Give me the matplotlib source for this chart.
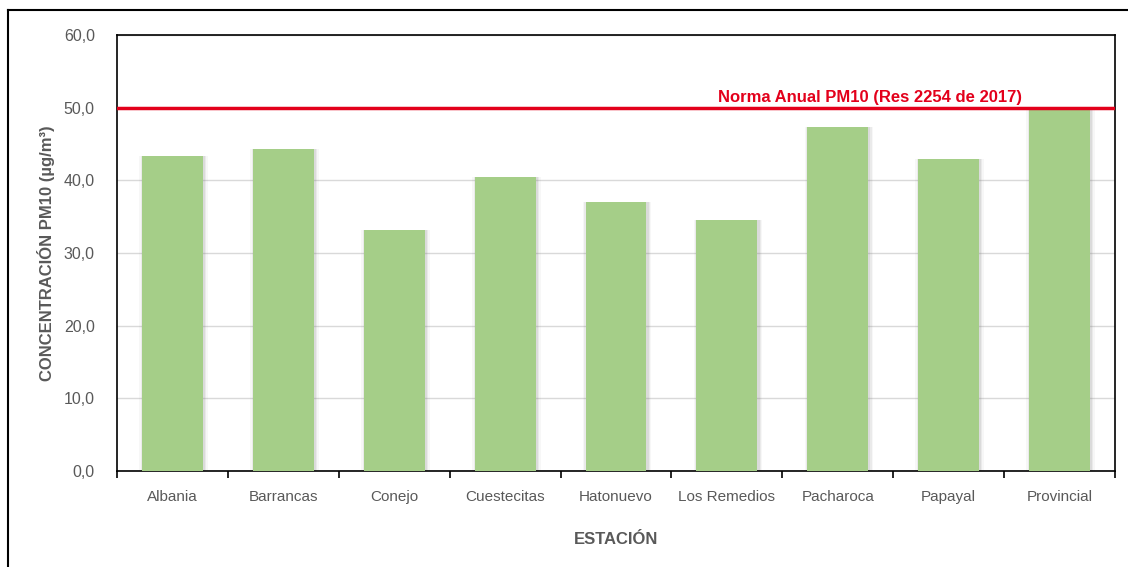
import matplotlib
matplotlib.use("Agg")
import matplotlib.pyplot as plt
from matplotlib.lines import Line2D

estaciones = ["Albania", "Barrancas", "Conejo", "Cuestecitas", "Hatonuevo",
              "Los Remedios", "Pacharoca", "Papayal", "Provincial"]
concentracion = [43.3, 44.3, 33.1, 40.4, 37.0, 34.5, 47.3, 42.9, 49.9]
norma = 50.0
norma_label = "Norma Anual PM10 (Res 2254 de 2017)"
yticks = [0, 10, 20, 30, 40, 50, 60]

plt.rcParams['font.family'] = ['Liberation Sans Narrow', 'Liberation Sans', 'DejaVu Sans']
gray = "#595959"

fig = plt.figure(figsize=(11.28, 5.67), dpi=100)
W, H = 1128, 567
ax = fig.add_axes([117 / W, 1 - 471 / H, (1115 - 117) / W, (471 - 35) / H])

x = list(range(len(estaciones)))
# soft shadow around bars
for w, a in [(0.62, 0.06), (0.59, 0.10), (0.57, 0.14)]:
    ax.bar([xi + 0.01 for xi in x], concentracion, width=w, color="#808080",
           alpha=a, zorder=2, linewidth=0)
ax.bar(x, concentracion, width=0.55, color="#A5CE88", zorder=3, linewidth=0)

ax.axhline(norma, color="#E3001B", linewidth=2.5, zorder=4)
ax.text(7.66, norma + 0.4, norma_label, color="#E3001B", fontsize=12,
        fontweight="bold", ha="right", va="bottom", zorder=5)

ax.set_xlim(-0.5, len(estaciones) - 0.5)
ax.set_ylim(0, 60)
ax.set_yticks(yticks)
ax.set_yticklabels([f"{v:.1f}".replace(".", ",") for v in yticks])
ax.set_xticks(x)
ax.set_xticklabels(estaciones)
ax.set_xticks([i - 0.5 for i in range(len(estaciones) + 1)], minor=True)
ax.tick_params(axis="x", which="major", length=0, pad=14, labelsize=11, colors=gray)
ax.tick_params(axis="x", which="minor", length=5, width=1.2, color="black")
ax.tick_params(axis="y", length=0, pad=16, labelsize=11.5, colors=gray)
ax.grid(axis="y", color="#D9D9D9", linewidth=1, zorder=0)
for s in ax.spines.values():
    s.set_color("black")
    s.set_linewidth(1.2)

ax.set_xlabel("ESTACIÓN", fontsize=12, fontweight="bold", color=gray, labelpad=20)
ax.set_ylabel("CONCENTRACIÓN PM10 (µg/m³)", fontsize=12, fontweight="bold",
              color=gray, labelpad=6)

# outer frame
fig.add_artist(Line2D([7.5 / W, 7.5 / W], [0, 1 - 10 / H], color="black", linewidth=1.5,
                      transform=fig.transFigure))
fig.add_artist(Line2D([7.5 / W, 1], [1 - 10 / H, 1 - 10 / H], color="black", linewidth=1.5,
                      transform=fig.transFigure))

fig.savefig("out.png", dpi=100)
